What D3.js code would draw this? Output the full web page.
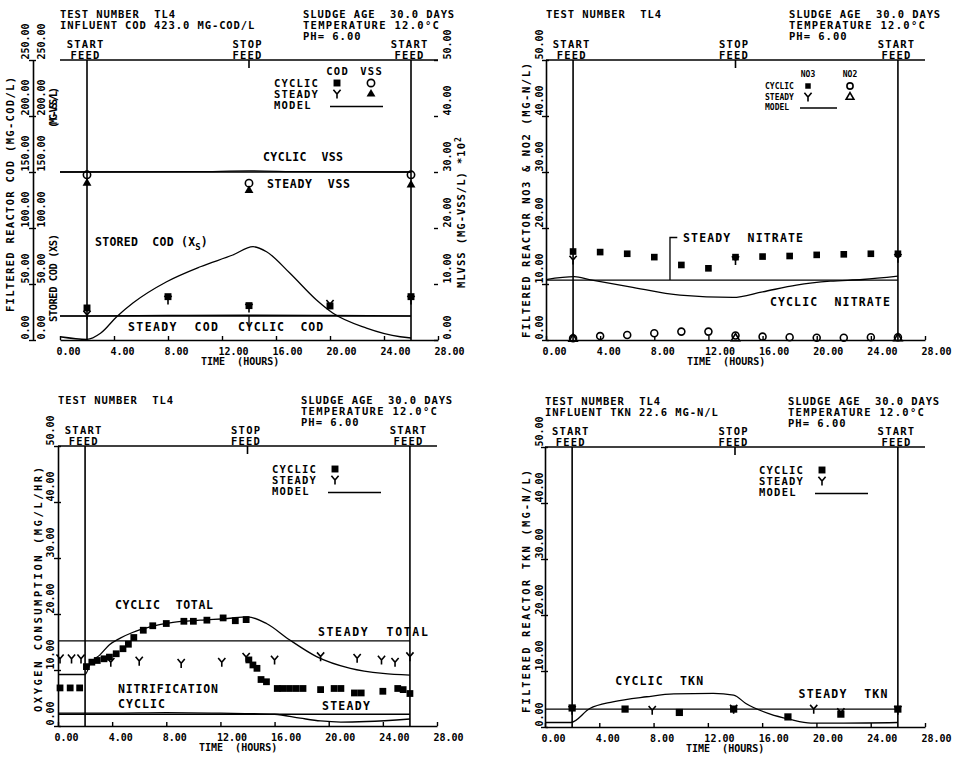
<!DOCTYPE html>
<html><head><meta charset="utf-8">
<script src="https://cdn.jsdelivr.net/npm/d3@7"></script>
<style>
body{margin:0;background:#fff;}
svg text{font-family:"DejaVu Sans Mono",monospace;font-weight:bold;fill:#000;white-space:pre;}
.hd{font-size:10.5px}.fd{font-size:10.5px}.tk{font-size:10px}.tt{font-size:10px}
.lg{font-size:10.5px}.an{font-size:11.5px}.yt{font-size:10.5px}.sm{font-size:8px}
.ln{stroke:#000;stroke-width:1.6;fill:none}
.md{stroke:#000;stroke-width:1.3;fill:none}
</style></head><body>
<svg id="chart" width="957" height="757" viewBox="0 0 957 757"></svg>
<script>
// ---------- shared ticks / labels ----------
const xTicks = [0,4,8,12,16,20,24,28];
const yTicks50 = [0,10,20,30,40,50];
const yLabels50 = ["0.00","10.00","20.00","30.00","40.00","50.00"];
const codTicks = [0,50,100,150,200,250];
const codLabels = ["0.00","50.00","100.00","150.00","200.00","250.00"];
const feedTimes = [2,14,26];
const feedWords = ["START","STOP","START"];
const xTitle = "TIME  (HOURS)";
const headLeft = "TEST NUMBER  TL4";
const headRight = ["SLUDGE AGE  30.0 DAYS","TEMPERATURE 12.0\u00B0C","PH= 6.00"];
const influentCOD = "INFLUENT COD 423.0 MG-COD/L";
const influentTKN = "INFLUENT TKN 22.6 MG-N/L";

// ---------- panel 1: COD / VSS ----------
const p1Time = [2,8,14,20,26];
const p1CyclicCOD = [28.6,38.7,30.7,30.4,38.7];
const p1SteadyCOD = [22.3,35.7,28.6,32.0,35.7];
const p1VssTime = [2,14,26];
const p1CyclicVSS = [29.5,28.0,29.5];
const p1SteadyVSS = [28.0,26.7,27.7];
const p1StoredT = [0,2,3,4.2,5.4,7.9,10.4,12.8,14.3,15.3,17,19,20.2,22.7,25.2,26];
const p1StoredV = [2.9,0.6,6.0,20.8,33,52,65.4,75.9,83.3,78.8,60,35.7,24.1,10.7,2.9,1.8];
const p1SteadyCODModelT = [0,26];
const p1SteadyCODModelV = [21.4,21.4];
const p1CyclicCODModelT = [0,2,8,14,20,26];
const p1CyclicCODModelV = [21.6,21.6,21.9,22.1,21.9,21.6];
const p1SteadyVSSModelT = [0,26];
const p1SteadyVSSModelV = [30,30];
const p1CyclicVSSModelT = [0,10,14,18,26];
const p1CyclicVSSModelV = [30.0,30.05,30.2,30.05,30.0];

// ---------- panel 2: NO3 / NO2 ----------
const p2Time = [2,4,6,8,10,12,14,16,18,20,22,24,26];
const p2CyclicNO3 = [15.8,15.7,15.4,14.8,13.4,12.8,14.8,14.9,15.0,15.2,15.3,15.4,15.4];
const p2CyclicNO2 = [0.3,0.7,0.9,1.2,1.5,1.5,0.8,0.6,0.5,0.4,0.4,0.5,0.5];
const p2SteadyTime = [2,14,26];
const p2SteadyNO3 = [14.3,14.2,14.6];
const p2SteadyNO2 = [0.2,0.3,0.3];
const p2SteadyModelT = [0,26];
const p2SteadyModelV = [10.7,10.7];
const p2CyclicModelT = [0,2.1,3.2,6.2,9.9,13.8,16,18.5,21,23.4,26];
const p2CyclicModelV = [10.8,11.3,10.8,9.5,8.0,7.6,8.6,9.8,10.5,10.8,11.4];

// ---------- panel 3: oxygen consumption ----------
const p3CyclicT = [0.15,0.9,1.6,2.1,2.5,2.9,3.4,3.8,4.3,4.8,5.2,5.6,6.3,7.0,8.0,9.3,10.0,11.0,12.2,13.1,13.9,
  14.1,14.4,14.7,15.0,15.4,16.2,16.6,17.1,17.6,18.1,19.4,20.4,20.9,21.9,22.4,24.0,25.1,25.5,26.0];
const p3CyclicV = [6.8,6.8,6.8,10.6,11.4,11.7,12.0,12.3,12.9,13.8,14.6,15.8,17.1,17.9,18.3,18.7,18.7,18.9,19.3,18.8,19.0,
  11.8,10.9,10.3,8.3,7.9,6.7,6.7,6.7,6.7,6.7,6.5,6.7,6.7,5.9,5.9,6.2,6.7,6.5,5.8];
const p3SteadyT = [0.15,1.0,1.7,3.9,6.0,9.1,12.1,13.9,16.0,19.4,22.1,23.9,24.9,26];
const p3SteadyV = [12.0,12.0,12.0,11.4,11.6,11.2,11.4,12.3,11.8,12.4,12.1,11.8,11.4,12.4];
const p3TotalModelT = [0,2,2.4,3.1,3.8,4.6,5.5,6.8,8.5,10.5,12.5,14.0,15.4,17.1,19.1,21.6,24,26];
const p3TotalModelV = [9.2,9.2,11.2,12.7,14.5,15.7,16.7,17.7,18.5,18.9,19.2,19.5,18.3,15.4,12.4,10.3,9.4,9.1];
const p3SteadyTotalT = [0,26];
const p3SteadyTotalV = [15.2,15.2];
const p3SteadyNitT = [0,26];
const p3SteadyNitV = [2.1,2.1];
const p3CyclicNitT = [0,4,8,12,16,17.9,19.4,20.9,22.8,26];
const p3CyclicNitV = [2.3,2.3,2.4,2.3,2.1,1.4,0.9,0.7,0.8,1.25];

// ---------- panel 4: TKN ----------
const p4CyclicT = [2,5.9,9.9,13.9,17.9,21.8,26];
const p4CyclicV = [3.4,3.2,2.6,3.2,1.8,2.3,3.2];
const p4SteadyT = [2,7.9,13.9,19.8,21.8,26];
const p4SteadyV = [3.0,3.0,3.2,3.2,2.6,3.0];
const p4CyclicModelT = [0,1.9,3.3,5.0,7.5,9.5,12.4,13.9,14.8,16.6,18.0,19.6,22.0,26];
const p4CyclicModelV = [0.8,0.8,3.3,4.5,5.4,5.9,6.0,5.7,4.2,2.3,1.4,0.7,0.7,0.8];
const p4SteadyModelT = [0,26];
const p4SteadyModelV = [3.2,3.2];

// ---------- drawing ----------
const svg = d3.select("#chart");
const fmt2 = d3.format(".2f");
const CW = 7.2; // plotter character pitch

function styleAxis(a){
  a.attr("font-family",null).attr("font-size",null);
  a.select(".domain").attr("stroke","#000").attr("stroke-width",1.6);
  a.selectAll(".tick line").attr("stroke","#000").attr("stroke-width",1.4);
}
function txt(g,cls,x,y,s,pitch){
  const t = g.append("text").attr("class",cls).attr("x",x).attr("y",y).text(s);
  if (pitch) t.attr("textLength",s.length*pitch).attr("lengthAdjust","spacing");
  return t;
}

function makePanel(cfg){
  const {L,T,W,H} = cfg, B = T+H;
  const x = d3.scaleLinear().domain([0,28]).range([L,L+W]);
  const y = d3.scaleLinear().domain(cfg.yDomain).range([B,T]);
  const g = svg.append("g");
  g.append("line").attr("class","ln").attr("x1",x(0)).attr("x2",x(28)).attr("y1",T).attr("y2",T);
  const xa = g.append("g").attr("transform",`translate(0,${B})`)
    .call(d3.axisBottom(x).tickValues(xTicks).tickFormat(fmt2).tickSizeInner(-4).tickSizeOuter(0));
  styleAxis(xa);
  xa.selectAll(".tick text").attr("y",15).attr("dy",null).attr("x",-4).attr("text-anchor","start").attr("class","tk");
  txt(g,"tt",L+141,B+25,xTitle);
  txt(g,"hd",L,T-42,headLeft,CW);
  if (cfg.influent) txt(g,"hd",L,T-31,cfg.influent,CW);
  headRight.forEach((s,i)=>txt(g,"hd",L+243,T-42+i*11,s,i===1?7.55:CW));
  feedTimes.forEach((t,i)=>{
    g.append("line").attr("class","ln").attr("x1",x(t)).attr("x2",x(t))
      .attr("y1",T).attr("y2",feedWords[i]==="STOP"?T+8:B);
    txt(g,"fd",x(t)-2-feedWords[i].length*3.65,T-12.5,feedWords[i],7.3);
    txt(g,"fd",x(t)-2-4*3.6,T-1.5,"FEED",7.2);
  });
  return {g,x,y,L,T,W,H,B};
}

function yAxis(p,scale,ax,labelX,ticks,labels,opts={}){
  const gen = (opts.right?d3.axisRight(scale):d3.axisLeft(scale)).tickValues(ticks)
    .tickFormat((d,i)=>labels[i]).tickSizeInner(opts.right?-4:4).tickSizeOuter(0);
  const a = p.g.append("g").attr("transform",`translate(${ax},0)`).call(gen);
  styleAxis(a);
  if (opts.noLine) a.select(".domain").remove();
  if (opts.noTicks) a.selectAll(".tick line").remove();
  else if (!opts.right) a.selectAll(".tick line").attr("x1",3);
  a.selectAll(".tick text").attr("x",null).attr("dy",null).attr("text-anchor","start")
    .attr("transform",`translate(${labelX-ax},-1) rotate(-90)`).attr("class","tk");
  return a;
}
function yTitle(g,bx,y0,len,s){
  return g.append("text").attr("class","yt").attr("transform",`translate(${bx},${y0}) rotate(-90)`)
    .attr("textLength",len).attr("lengthAdjust","spacing").text(s);
}
function model(p,yS,ts,vs,curve){
  p.g.append("path").datum(d3.zip(ts,vs)).attr("class","md")
    .attr("d",d3.line().x(d=>p.x(d[0])).y(d=>yS(d[1])).curve(curve||d3.curveMonotoneX));
}
const Ypath = "M-3.6,-4.2L0,0L3.6,-4.2M0,0L0,4.6";
function symPath(type,s){
  if (type==="square") return d3.symbol(d3.symbolSquare,s||48)();
  if (type==="circle") return d3.symbol(d3.symbolCircle,s||42)();
  if (type==="triFill"||type==="triOpen") return d3.symbol(d3.symbolTriangle,s||34)();
  return Ypath;
}
function styleSym(sel,type){
  if (type==="square"||type==="triFill") sel.attr("fill","#000").attr("stroke","none");
  else sel.attr("fill","none").attr("stroke","#000").attr("stroke-width",1.6);
}
function marks(p,yS,ts,vs,type,s){
  const sel = p.g.append("g").selectAll("path").data(d3.zip(ts,vs)).join("path")
    .attr("transform",d=>`translate(${p.x(d[0])},${yS(d[1])})`).attr("d",symPath(type,s));
  styleSym(sel,type);
}
function legendSym(g,x,y,type,s){
  const sel = g.append("path").attr("transform",`translate(${x},${y})`).attr("d",symPath(type,s));
  styleSym(sel,type);
}
function stdLegend(p,cols,heads){
  const {g,L,T} = p;
  const rows = ["CYCLIC","STEADY","MODEL"];
  const cx = [L+277,L+311];
  if (heads) heads.forEach((h,i)=>txt(g,"lg",cx[i]-h.length*3.6,T+15,h,CW));
  rows.forEach((r,i)=>txt(g,"lg",L+214,T+27+i*11,r,7.3));
  cols.forEach((c,j)=>{ legendSym(g,cx[j],T+23,c[0]); legendSym(g,cx[j],T+34,c[1]); });
  g.append("line").attr("class","md").attr("x1",L+270).attr("x2",L+323).attr("y1",T+46.5).attr("y2",T+46.5);
}
function annot(p,t,v,s,len){
  return p.g.append("text").attr("class","an").attr("x",p.x(t)).attr("y",p.y(v))
    .attr("textLength",len).attr("lengthAdjust","spacing").text(s);
}

// ===== Panel 1 =====
const P1 = makePanel({L:60,T:60,W:378,H:280,yDomain:[0,250],influent:influentCOD});
const yR1 = d3.scaleLinear().domain([0,50]).range([P1.B,P1.T]);
yAxis(P1,P1.y,33,29,codTicks,codLabels);
yAxis(P1,P1.y,60,45,codTicks,codLabels,{noLine:true,noTicks:true});
yAxis(P1,yR1,438,451,yTicks50,yLabels50,{right:true,noLine:true});
yTitle(P1.g,14,312,235,"FILTERED REACTOR COD (MG-COD/L)");
yTitle(P1.g,57,322,88,"STORED COD (XS)");
yTitle(P1.g,57,128,41,"(MG-VSS/L)");
{
  const rt = P1.g.append("text").attr("class","yt").attr("transform","translate(465,288) rotate(-90)");
  rt.append("tspan").attr("textLength",145).attr("lengthAdjust","spacing").text("MLVSS (MG-VSS/L) *10");
  rt.append("tspan").attr("dy",-4).style("font-size","8px").text("2");
}
model(P1,P1.y,p1StoredT,p1StoredV);
model(P1,P1.y,p1SteadyCODModelT,p1SteadyCODModelV,d3.curveLinear);
model(P1,P1.y,p1CyclicCODModelT,p1CyclicCODModelV);
model(P1,yR1,p1SteadyVSSModelT,p1SteadyVSSModelV,d3.curveLinear);
model(P1,yR1,p1CyclicVSSModelT,p1CyclicVSSModelV);
marks(P1,P1.y,p1Time,p1CyclicCOD,"square");
marks(P1,P1.y,p1Time,p1SteadyCOD,"Y");
marks(P1,yR1,p1VssTime,p1CyclicVSS,"circle");
marks(P1,yR1,p1VssTime,p1SteadyVSS,"triFill");
stdLegend(P1,[["square","Y"],["circle","triFill"]],["COD","VSS"]);
annot(P1,15.04,159.8,"CYCLIC  VSS",80);
annot(P1,15.33,135.7,"STEADY  VSS",83);
{
  const st = P1.g.append("text").attr("class","an").attr("x",P1.x(2.6)).attr("y",P1.y(83.9));
  st.append("tspan").attr("textLength",100).attr("lengthAdjust","spacing").text("STORED  COD (X");
  st.append("tspan").attr("dy",4).style("font-size","9px").text("S");
  st.append("tspan").attr("dy",-4).text(")");
}
annot(P1,5.04,8.0,"STEADY  COD",90);
annot(P1,13.19,8.0,"CYCLIC  COD",85);
P1.g.append("line").attr("class","md").attr("x1",P1.x(14)).attr("x2",P1.x(14)).attr("y1",P1.y(21.4)).attr("y2",P1.y(13));

// ===== Panel 2 =====
const P2 = makePanel({L:546,T:60,W:379,H:280,yDomain:[0,50]});
yAxis(P2,P2.y,546,543,yTicks50,yLabels50);
yTitle(P2.g,530,338,275,"FILTERED REACTOR NO3 & NO2 (MG-N/L)");
model(P2,P2.y,p2SteadyModelT,p2SteadyModelV,d3.curveLinear);
model(P2,P2.y,p2CyclicModelT,p2CyclicModelV);
marks(P2,P2.y,p2Time,p2CyclicNO3,"square",44);
marks(P2,P2.y,p2SteadyTime,p2SteadyNO3,"Y");
marks(P2,P2.y,p2Time,p2CyclicNO2,"circle",38);
marks(P2,P2.y,p2SteadyTime,p2SteadyNO2,"triOpen",30);
{
  const {g,L,T} = P2;
  txt(g,"sm",L+262,T+17,"NO3").attr("text-anchor","middle");
  txt(g,"sm",L+304,T+17,"NO2").attr("text-anchor","middle");
  ["CYCLIC","STEADY","MODEL"].forEach((r,i)=>txt(g,"sm",L+219,T+29+i*10.5,r));
  legendSym(g,L+262,T+26,"square",30); legendSym(g,L+304,T+26,"circle",30);
  legendSym(g,L+262,T+37,"Y"); legendSym(g,L+304,T+37,"triOpen",26);
  g.append("line").attr("class","md").attr("x1",L+254).attr("x2",L+291).attr("y1",T+48).attr("y2",T+48);
}
annot(P2,10.12,17.5,"STEADY  NITRATE",120);
annot(P2,16.54,6.07,"CYCLIC  NITRATE",120);
P2.g.append("path").attr("class","md")
  .attr("d",d3.line()([[P2.x(9.16),P2.y(10.7)],[P2.x(9.16),P2.y(18.3)],[P2.x(9.7),P2.y(18.3)]]));

// ===== Panel 3 =====
const P3 = makePanel({L:58,T:446,W:379,H:280,yDomain:[0,50]});
yAxis(P3,P3.y,58,54,yTicks50,yLabels50);
yTitle(P3.g,42,712,245,"OXYGEN CONSUMPTION (MG/L/HR)");
model(P3,P3.y,p3TotalModelT,p3TotalModelV);
model(P3,P3.y,p3SteadyTotalT,p3SteadyTotalV,d3.curveLinear);
model(P3,P3.y,p3SteadyNitT,p3SteadyNitV,d3.curveLinear);
model(P3,P3.y,p3CyclicNitT,p3CyclicNitV);
marks(P3,P3.y,p3CyclicT,p3CyclicV,"square",46);
marks(P3,P3.y,p3SteadyT,p3SteadyV,"Y");
stdLegend(P3,[["square","Y"]]);
annot(P3,4.21,20.9,"CYCLIC  TOTAL",98);
annot(P3,19.2,16.07,"STEADY  TOTAL",110);
annot(P3,4.43,5.9,"NITRIFICATION",100);
annot(P3,4.43,3.3,"CYCLIC",47);
annot(P3,19.5,2.86,"STEADY",48);

// ===== Panel 4 =====
const P4 = makePanel({L:545,T:447,W:380,H:280,yDomain:[0,50],influent:influentTKN});
yAxis(P4,P4.y,545,543,yTicks50,yLabels50);
yTitle(P4.g,530,713,243,"FILTERED REACTOR TKN (MG-N/L)");
model(P4,P4.y,p4SteadyModelT,p4SteadyModelV,d3.curveLinear);
model(P4,P4.y,p4CyclicModelT,p4CyclicModelV);
marks(P4,P4.y,p4CyclicT,p4CyclicV,"square",52);
marks(P4,P4.y,p4SteadyT,p4SteadyV,"Y");
stdLegend(P4,[["square","Y"]]);
annot(P4,5.17,7.5,"CYCLIC  TKN",88);
annot(P4,18.68,5.18,"STEADY  TKN",89);
</script>
</body></html>
